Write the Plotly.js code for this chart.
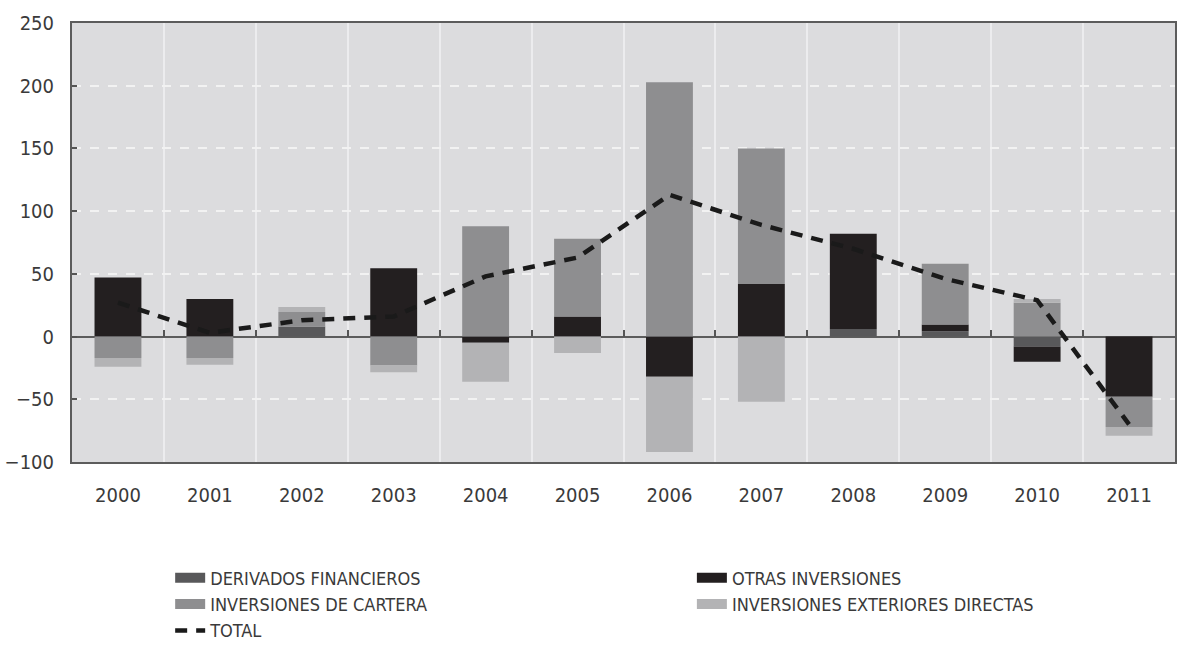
<!DOCTYPE html>
<html>
<head>
<meta charset="utf-8">
<script src="https://cdn.plot.ly/plotly-3.0.1.min.js"></script>
<style>
  html, body { margin: 0; padding: 0; background: #ffffff; }
  #chart { width: 1178px; height: 663px; }
</style>
</head>
<body>
<div id="chart"></div>
<script>
// ---- data ----
const years = ['2000','2001','2002','2003','2004','2005','2006','2007','2008','2009','2010','2011'];
const derivados = [0, 0, 8, 0, 0, 0, 0, 0, 6, 4.3, -8, 0];
const otras     = [47, 30, 0, 54.5, -5, 16, -32, 42, 76, 5.3, -12, -48];
const cartera   = [-17, -17, 11.5, -23, 88, 62, 202.7, 108, 0, 48.4, 27, -24];
const ied       = [-7, -5.5, 4, -5.5, -31, -13, -60, -52, 0, 0, 3, -7];
const total     = [27, 3, 13, 16, 48, 63, 113, 89, 70, 46, 29, -70];

const names = {
  derivados: 'DERIVADOS FINANCIEROS',
  otras: 'OTRAS INVERSIONES',
  cartera: 'INVERSIONES DE CARTERA',
  ied: 'INVERSIONES EXTERIORES DIRECTAS',
  total: 'TOTAL'
};
const colors = {
  derivados: '#58585a',
  otras: '#231f20',
  cartera: '#8e8e90',
  ied: '#b3b3b5',
  total: '#1a1a1a'
};

const yRange = [-100, 250];
const FONT = "'DejaVu Sans Condensed', 'Liberation Sans Narrow', sans-serif";

function barTrace(key, values) {
  return {
    type: 'bar', x: years, y: values, name: names[key],
    marker: { color: colors[key], line: { width: 0 } },
    showlegend: false, legendgroup: key, hoverinfo: 'x+y+name'
  };
}
function legendTrace(key, legendId) {
  return {
    type: 'scatter', x: [null], y: [null], mode: 'lines', name: names[key],
    line: { color: colors[key], width: 14 },
    legend: legendId, legendgroup: key, hoverinfo: 'skip'
  };
}

const data = [
  barTrace('derivados', derivados),
  barTrace('otras', otras),
  barTrace('cartera', cartera),
  barTrace('ied', ied),
  {
    type: 'scatter', mode: 'lines', x: years, y: total, name: names.total,
    xaxis: 'x2',
    line: { color: colors.total, width: 4.5, dash: '12px,9px' },
    legend: 'legend', legendgroup: 'total', showlegend: false
  },
  legendTrace('derivados', 'legend'),
  legendTrace('cartera', 'legend'),
  {
    type: 'scatter', x: [null], y: [null], mode: 'lines', name: names.total,
    line: { color: colors.total, width: 4.5, dash: '12px,9px' },
    legend: 'legend', legendgroup: 'total', hoverinfo: 'skip'
  },
  legendTrace('otras', 'legend2'),
  legendTrace('ied', 'legend2')
];

const zeroFrac = (0 - yRange[0]) / (yRange[1] - yRange[0]);

const legendBase = {
  orientation: 'v', xanchor: 'left', yanchor: 'top',
  bgcolor: 'rgba(0,0,0,0)', borderwidth: 0, tracegroupgap: 0,
  font: { family: FONT, size: 18, color: '#3a3a3a' }
};

const layout = {
  width: 1178, height: 663,
  margin: { l: 72, r: 3, t: 23, b: 201 },
  paper_bgcolor: '#ffffff',
  plot_bgcolor: '#dcdcde',
  barmode: 'relative',
  bargap: 0.49,
  font: { family: FONT, size: 20, color: '#3a3a3a' },
  xaxis: {
    type: 'category',
    tickson: 'boundaries',
    showgrid: true, gridcolor: '#ececee', gridwidth: 2,
    ticks: '', ticklabelstandoff: 14,
    showline: true, mirror: true, linecolor: '#5c5c5c', linewidth: 2,
    zeroline: false,
    tickfont: { family: FONT, size: 20, color: '#3a3a3a' }
  },
  xaxis2: {
    type: 'category', matches: 'x',
    overlaying: 'x', anchor: 'free', position: zeroFrac, side: 'bottom',
    tickson: 'boundaries',
    ticks: 'inside', ticklen: 7, tickwidth: 1.5, tickcolor: '#555555',
    showticklabels: false, showgrid: false, showline: false, zeroline: false
  },
  yaxis: {
    range: yRange, dtick: 50,
    ticks: 'inside', ticklen: 5, tickwidth: 1.5, tickcolor: '#555555',
    ticklabelstandoff: 12,
    showgrid: true, gridcolor: '#f2f2f2', gridwidth: 2, griddash: 'dash',
    showline: true, mirror: true, linecolor: '#5c5c5c', linewidth: 2,
    zeroline: true, zerolinecolor: '#5c5c5c', zerolinewidth: 2,
    tickfont: { family: FONT, size: 20, color: '#3a3a3a' }
  },
  legend: Object.assign({}, legendBase, { x: 0.089, y: -0.222 }),
  legend2: Object.assign({}, legendBase, { x: 0.562, y: -0.222 }),
  showlegend: true
};

Plotly.newPlot('chart', data, layout, { displayModeBar: false, responsive: false });
</script>
</body>
</html>
